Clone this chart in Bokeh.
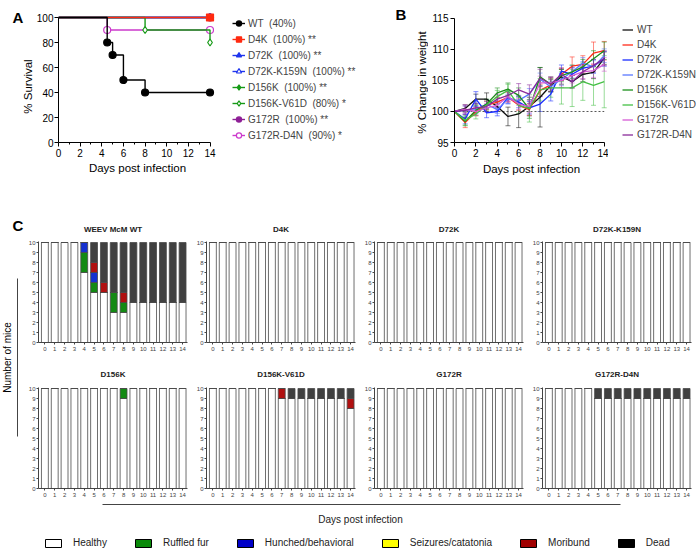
import math
from bokeh.plotting import figure
from bokeh.models import (Range1d, ColumnDataSource, Legend, LegendItem, Whisker,
                          TeeHead, FixedTicker)
from bokeh.layouts import row, column
from bokeh.embed import file_html
from bokeh.resources import INLINE
from bokeh.core.properties import value

FONT = "Liberation Sans"

# ---------------- Panel A: survival ----------------
surv_names = ["WT", "D4K", "D72K", "D72K-K159N", "D156K", "D156K-V61D", "G172R", "G172R-D4N"]
surv_final = ["40%", "100%", "100%", "100%", "100%", "80%", "100%", "90%"]
surv_sig = ["", "**", "**", "**", "**", "*", "**", "*"]
wt_days = [0, 4.5, 5, 6, 8, 14]
wt_surv = [100, 80, 70, 50, 40, 40]
d4k_days = [0, 14]
d4k_surv = [100, 100]
d72k_days = [0, 14]
d72k_surv = [100, 100]
d72kk_days = [0, 14]
d72kk_surv = [100, 100]
d156k_days = [0, 14]
d156k_surv = [100, 100]
d156kv_days = [0, 8, 14]
d156kv_surv = [100, 90, 80]
g172r_days = [0, 14]
g172r_surv = [100, 100]
g172rd_days = [0, 4.5, 14]
g172rd_surv = [100, 90, 90]

# ---------------- Panel B: weight ----------------
w_days = list(range(15))
wt_w = [100, 100.5, 102.0, 102.0, 100.8, 99.2, 99.6, 100.8, 102.3, 104.2, 105.6, 104.8, 106.0, 106.3, 108.6]
wt_sd = [0, 0.6, 0.8, 1.0, 0.8, 1.5, 2.2, 1.5, 4.8, 1.0, 1.2, 1.0, 1.2, 1.0, 1.0]
d4k_w = [100, 98.2, 100.0, 101.0, 101.5, 102.3, 101.0, 100.3, 103.4, 104.3, 106.0, 107.3, 107.6, 109.4, 109.8]
d4k_sd = [0, 0.8, 0.7, 0.7, 0.8, 0.8, 0.8, 0.9, 1.0, 1.1, 1.0, 1.5, 1.4, 1.8, 1.5]
d72k_w = [100, 98.8, 102.0, 99.8, 100.0, 102.3, 101.5, 100.6, 101.2, 102.8, 106.5, 106.0, 107.0, 107.3, 108.5]
d72k_sd = [0, 0.8, 1.2, 0.8, 0.7, 1.0, 0.9, 1.0, 1.2, 1.1, 1.0, 1.1, 1.0, 1.1, 1.2]
d72kk_w = [100, 100.2, 100.3, 101.2, 100.3, 102.0, 101.8, 102.8, 105.2, 104.0, 105.2, 106.4, 107.8, 107.2, 109.0]
d72kk_sd = [0, 0.7, 0.6, 0.7, 0.6, 0.8, 0.8, 0.9, 1.0, 0.9, 1.0, 1.0, 0.9, 1.0, 1.1]
d156k_w = [100, 98.4, 100.2, 101.2, 103.0, 103.6, 102.6, 100.4, 105.6, 104.4, 105.8, 106.4, 107.2, 108.5, 109.8]
d156k_sd = [0, 0.7, 0.8, 0.8, 0.8, 1.0, 1.2, 1.5, 1.5, 1.2, 1.0, 1.1, 1.2, 1.3, 1.4]
d156kv_w = [100, 98.6, 99.6, 101.0, 102.4, 103.4, 101.0, 100.5, 103.5, 103.8, 103.8, 103.8, 104.8, 104.2, 104.8]
d156kv_sd = [0, 0.8, 0.8, 0.9, 1.0, 1.0, 1.3, 2.2, 1.8, 1.5, 2.6, 3.0, 3.0, 3.2, 4.2]
g172r_w = [100, 100.4, 100.0, 100.6, 101.0, 102.4, 101.2, 100.8, 104.6, 104.6, 105.0, 105.8, 106.4, 106.6, 107.6]
g172r_sd = [0, 0.7, 0.6, 0.7, 0.8, 0.8, 0.9, 1.0, 1.1, 1.0, 1.1, 1.2, 1.1, 1.1, 1.1]
g172rd_w = [100, 100.2, 100.6, 100.8, 102.0, 102.6, 103.5, 102.8, 105.4, 104.4, 106.0, 104.8, 106.4, 107.4, 108.6]
g172rd_sd = [0, 0.7, 0.7, 0.8, 0.8, 0.9, 1.0, 1.5, 1.4, 1.1, 1.0, 1.0, 1.2, 1.0, 1.2]

# ---------------- Panel C: clinical scores ----------------
c_days = list(range(15))
status_names = ["Healthy", "Ruffled fur", "Hunched/behavioral", "Seizures/catatonia", "Moribund", "Dead"]
status_keys = ["healthy", "ruffled", "hunched", "seizures", "moribund", "dead"]
ALL10 = [10] * 15
NONE = [0] * 15
wt_healthy = [10, 10, 10, 10, 7, 5, 5, 3, 3, 4, 4, 4, 4, 4, 4]
wt_ruffled = [0, 0, 0, 0, 2, 1, 0, 2, 1, 0, 0, 0, 0, 0, 0]
wt_hunched = [0, 0, 0, 0, 1, 1, 0, 0, 0, 0, 0, 0, 0, 0, 0]
wt_moribund = [0, 0, 0, 0, 0, 1, 1, 0, 1, 0, 0, 0, 0, 0, 0]
wt_dead = [0, 0, 0, 0, 0, 2, 4, 5, 5, 6, 6, 6, 6, 6, 6]
d156k_healthy = [10, 10, 10, 10, 10, 10, 10, 10, 9, 10, 10, 10, 10, 10, 10]
d156k_ruffled = [0, 0, 0, 0, 0, 0, 0, 0, 1, 0, 0, 0, 0, 0, 0]
d156kv_healthy = [10, 10, 10, 10, 10, 10, 10, 9, 9, 9, 9, 9, 9, 9, 8]
d156kv_moribund = [0, 0, 0, 0, 0, 0, 0, 1, 0, 0, 0, 0, 0, 0, 1]
d156kv_dead = [0, 0, 0, 0, 0, 0, 0, 0, 1, 1, 1, 1, 1, 1, 1]
g172rd_healthy = [10, 10, 10, 10, 10, 9, 9, 9, 9, 9, 9, 9, 9, 9, 9]
g172rd_dead = [0, 0, 0, 0, 0, 1, 1, 1, 1, 1, 1, 1, 1, 1, 1]

c_titles = ["WEEV McM WT", "D4K", "D72K", "D72K-K159N", "D156K", "D156K-V61D", "G172R", "G172R-D4N"]
c_counts = [
    [wt_healthy, wt_ruffled, wt_hunched, NONE, wt_moribund, wt_dead],
    [ALL10, NONE, NONE, NONE, NONE, NONE],
    [ALL10, NONE, NONE, NONE, NONE, NONE],
    [ALL10, NONE, NONE, NONE, NONE, NONE],
    [d156k_healthy, d156k_ruffled, NONE, NONE, NONE, NONE],
    [d156kv_healthy, NONE, NONE, NONE, d156kv_moribund, d156kv_dead],
    [ALL10, NONE, NONE, NONE, NONE, NONE],
    [g172rd_healthy, NONE, NONE, NONE, NONE, g172rd_dead],
]
bar_colors = ["#ffffff", "#138a13", "#1530d0", "#f5f000", "#b01010", "#404040"]
legend_colors = ["#ffffff", "#0a8a0a", "#0000c8", "#ffff00", "#a00000", "#000000"]

TOP_B = 0      # shared top border of the first row (frames are aligned in a row)
BOT_B = 63     # shared bottom border of the first row


def base_fig(**kw):
    p = figure(output_backend="svg", toolbar_location=None, **kw)
    p.xgrid.visible = False
    p.ygrid.visible = False
    p.outline_line_color = None
    return p


def blank_fig(w, h, flip=True, left=0, top=0, bottom=0):
    ih = h - top - bottom
    p = figure(width=w, height=h, x_range=Range1d(0, w - left),
               y_range=Range1d(ih, 0) if flip else Range1d(0, ih),
               x_axis_type=None, y_axis_type=None, output_backend="svg",
               toolbar_location=None, min_border=0, min_border_left=left,
               min_border_top=top, min_border_bottom=bottom)
    p.grid.visible = False
    p.outline_line_color = None
    return p


def style_axes(p, label_size, tick_size, color="#000000"):
    for ax in (p.xaxis[0], p.yaxis[0]):
        ax.axis_line_color = color
        ax.major_tick_line_color = color
        ax.minor_tick_line_color = color
        ax.major_tick_in = 0
        ax.minor_tick_in = 0
        ax.major_label_text_font = FONT
        ax.major_label_text_font_size = tick_size
        ax.major_label_text_color = color
        ax.axis_label_text_font = FONT
        ax.axis_label_text_font_size = label_size
        ax.axis_label_text_font_style = "normal"
        ax.axis_label_text_color = color


def side_text(p, x, y, txt, size, bold=False, angle=0.0, align="left", baseline="alphabetic"):
    p.text(x=[x], y=[y], text=[txt], angle=angle, text_font=value(FONT), text_font_size=size,
           text_font_style="bold" if bold else "normal", text_align=align,
           text_baseline=baseline, text_color="#000000")


# ---------------- Figure A ----------------
stripA = blank_fig(33, 205, top=TOP_B, bottom=BOT_B)
side_text(stripA, 12, 17, "A", "15px", bold=True)
side_text(stripA, 27, 86, "% Survival", "11.5px", angle=math.pi / 2, align="center", baseline="middle")

pA = base_fig(width=183, height=205, x_range=Range1d(0, 14.6), y_range=Range1d(0, 113.6),
              min_border_left=22, min_border_right=0, min_border_top=TOP_B, min_border_bottom=BOT_B)
style_axes(pA, "11.5px", "10px")
pA.xaxis.ticker = FixedTicker(ticks=list(range(0, 15, 2)), minor_ticks=list(range(1, 14, 2)))
pA.yaxis.ticker = FixedTicker(ticks=list(range(0, 101, 20)), minor_ticks=[])
pA.xaxis.bounds = (0, 14)
pA.yaxis.bounds = (0, 100)
pA.xaxis.major_tick_out = 4
pA.xaxis.minor_tick_out = 2
pA.yaxis.major_tick_out = 4
pA.xaxis.major_label_standoff = 2
pA.yaxis.major_label_standoff = 1
pA.xaxis.axis_label_standoff = 2
pA.xaxis.axis_label = "Days post infection"

surv_days = [wt_days, d4k_days, d72k_days, d72kk_days, d156k_days, d156kv_days, g172r_days, g172rd_days]
surv_vals = [wt_surv, d4k_surv, d72k_surv, d72kk_surv, d156k_surv, d156kv_surv, g172r_surv, g172rd_surv]
surv_colors = ["#000000", "#ff2a10", "#1f35ee", "#1f35ee", "#169a16", "#169a16", "#8e1f96", "#cc3acc"]
surv_markers = ["circle", "square", "triangle", "triangle", "diamond", "diamond", "circle", "circle"]
surv_open = [False, False, False, True, False, True, False, True]
draw_order = [7, 6, 4, 3, 2, 5, 1, 0]
for i in draw_order:
    c = surv_colors[i]
    pA.step(surv_days[i], surv_vals[i], mode="after", line_color=c, line_width=1.4)
    pA.scatter(surv_days[i][1:], surv_vals[i][1:], marker=surv_markers[i], size=7,
               line_color=c, line_width=1.2, fill_color="#ffffff" if surv_open[i] else c)

# legend for A (own figure so that nothing is clipped)
legAfig = blank_fig(174, 205, flip=False, top=TOP_B, bottom=BOT_B)
NB = "\u00a0"
itemsA = []
for i, n in enumerate(surv_names):
    c = surv_colors[i]
    lr = legAfig.line([-100, -90], [-100, -100], line_color=c, line_width=1.4)
    sr = legAfig.scatter([-100], [-100], marker=surv_markers[i], size=7, line_color=c,
                         line_width=1.2, fill_color="#ffffff" if surv_open[i] else c)
    lab = f"{n}{NB} ({surv_final[i]})"
    if surv_sig[i]:
        lab += f" {surv_sig[i]}"
    itemsA.append(LegendItem(label=lab, renderers=[lr, sr]))
legA = Legend(items=itemsA, location="top_left", glyph_width=13, glyph_height=14, label_height=14,
              spacing=2, padding=0, margin=16, label_standoff=3, border_line_color=None,
              background_fill_alpha=0, label_text_font=FONT, label_text_font_size="10px")
legAfig.add_layout(legA)

# ---------------- Figure B ----------------
stripB = blank_fig(38, 205, top=TOP_B, bottom=BOT_B)
side_text(stripB, 5, 14, "B", "15px", bold=True)
side_text(stripB, 31, 82, "% Change in weight", "11.5px", angle=math.pi / 2, align="center",
          baseline="middle")

pB = base_fig(width=180, height=205, x_range=Range1d(0, 14.4), y_range=Range1d(95, 117.9),
              min_border_left=23, min_border_right=0, min_border_top=TOP_B, min_border_bottom=BOT_B)
style_axes(pB, "11.5px", "10px")
pB.xaxis.ticker = FixedTicker(ticks=list(range(0, 15, 2)), minor_ticks=list(range(1, 14, 2)))
pB.yaxis.ticker = FixedTicker(ticks=[95, 100, 105, 110, 115], minor_ticks=[])
pB.xaxis.bounds = (0, 14)
pB.yaxis.bounds = (95, 115)
pB.xaxis.major_tick_out = 4
pB.xaxis.minor_tick_out = 2
pB.yaxis.major_tick_out = 4
pB.xaxis.major_label_standoff = 2
pB.yaxis.major_label_standoff = 2
pB.xaxis.axis_label_standoff = 3
pB.xaxis.axis_label = "Days post infection"
pB.line([0, 14], [100, 100], line_color="#555555", line_dash="2 2", line_width=1)

w_names = surv_names
w_means = [wt_w, d4k_w, d72k_w, d72kk_w, d156k_w, d156kv_w, g172r_w, g172rd_w]
w_sds = [wt_sd, d4k_sd, d72k_sd, d72kk_sd, d156k_sd, d156kv_sd, g172r_sd, g172rd_sd]
w_colors = ["#111111", "#ff2a1a", "#1a2cff", "#5a78ff", "#1a8f1a", "#45c045", "#d65ad6", "#8a2a9a"]
for i, n in enumerate(w_names):
    c = w_colors[i]
    src = ColumnDataSource(dict(x=w_days, m=w_means[i],
                                lo=[m - s for m, s in zip(w_means[i], w_sds[i])],
                                hi=[m + s for m, s in zip(w_means[i], w_sds[i])]))
    pB.add_layout(Whisker(base="x", lower="lo", upper="hi", source=src, line_color=c,
                          line_alpha=0.55, line_width=1,
                          upper_head=TeeHead(size=5, line_color=c, line_alpha=0.55),
                          lower_head=TeeHead(size=5, line_color=c, line_alpha=0.55)))
    pB.line("x", "m", source=src, line_color=c, line_width=1.3)

legBfig = blank_fig(88, 205, flip=False, top=TOP_B, bottom=BOT_B)
itemsB = []
for i, n in enumerate(w_names):
    r = legBfig.line([-100, -90], [-100, -100], line_color=w_colors[i], line_width=1.3)
    itemsB.append(LegendItem(label=n, renderers=[r]))
legB = Legend(items=itemsB, location="top_left", glyph_width=11, glyph_height=13, label_height=13,
              spacing=2, padding=0, margin=14, label_standoff=4, border_line_color=None,
              background_fill_alpha=0, label_text_font=FONT, label_text_font_size="10px",
              title=" ", title_text_font_size="8px", title_standoff=0)
legBfig.add_layout(legB)


# ---------------- Figure C ----------------
def mini(idx, w, right, h, top, bottom, standoff):
    p = base_fig(width=w, height=h, x_range=Range1d(-0.65, 14.5), y_range=Range1d(0, 10.1),
                 min_border_left=10, min_border_right=right, min_border_top=top,
                 min_border_bottom=bottom, title=c_titles[idx])
    p.title.align = "center"
    p.title.text_font = FONT
    p.title.text_font_size = "8px"
    p.title.text_font_style = "bold"
    p.title.text_color = "#222222"
    p.title.standoff = standoff
    style_axes(p, "8px", "6px", color="#444444")
    p.xaxis.ticker = FixedTicker(ticks=c_days, minor_ticks=[])
    p.yaxis.ticker = FixedTicker(ticks=list(range(11)), minor_ticks=[])
    p.xaxis.major_tick_out = 2
    p.yaxis.major_tick_out = 2
    p.xaxis.major_label_standoff = 2
    p.yaxis.major_label_standoff = 1
    data = dict(day=c_days)
    for k, v in zip(status_keys, c_counts[idx]):
        data[k] = v
    p.vbar_stack(status_keys, x="day", width=0.7, source=ColumnDataSource(data),
                 fill_color=bar_colors, line_color="#4a4a4a", line_width=0.8)
    return p


row1 = row(*[mini(i, 168 if i < 3 else 167, 6 if i < 3 else 5, 153, 36, 16, 16) for i in range(4)])
row2 = row(*[mini(i, 168 if i < 7 else 167, 6 if i < 7 else 5, 144, 29, 14, 18) for i in range(4, 8)])

strip = blank_fig(25, 297)
side_text(strip, 12, 20, "C", "15px", bold=True)
strip.segment(x0=[17], y0=[73], x1=[17], y1=[231], line_color="#444444", line_width=1)
side_text(strip, 7, 152, "Number of mice", "10px", angle=math.pi / 2, align="center", baseline="middle")

footer = blank_fig(696, 47)
footer.segment(x0=[102], y0=[2], x1=[620], y1=[2], line_color="#444444", line_width=1)
footer.text(x=[360], y=[17], text=["Days post infection"], text_font=value(FONT),
            text_font_size="10px", text_align="center", text_baseline="middle", text_color="#222222")
itemsF = []
for n, c in zip(status_names, legend_colors):
    r = footer.quad(left=[-50], right=[-40], bottom=[-50], top=[-40], fill_color=c,
                    line_color="#000000", line_width=1)
    itemsF.append(LegendItem(label=n, renderers=[r]))
legF = Legend(items=itemsF, orientation="horizontal", location=(43, 1), glyph_width=20,
              glyph_height=10, label_height=10, spacing=26, padding=0, margin=0,
              label_standoff=10, border_line_color=None, background_fill_alpha=0,
              label_text_font=FONT, label_text_font_size="10px", label_text_color="#222222")
footer.add_layout(legF)

layout = column(row(stripA, pA, legAfig, stripB, pB, legBfig),
                row(strip, column(row1, row2)), footer)
open("out.html", "w").write(file_html(layout, INLINE))
